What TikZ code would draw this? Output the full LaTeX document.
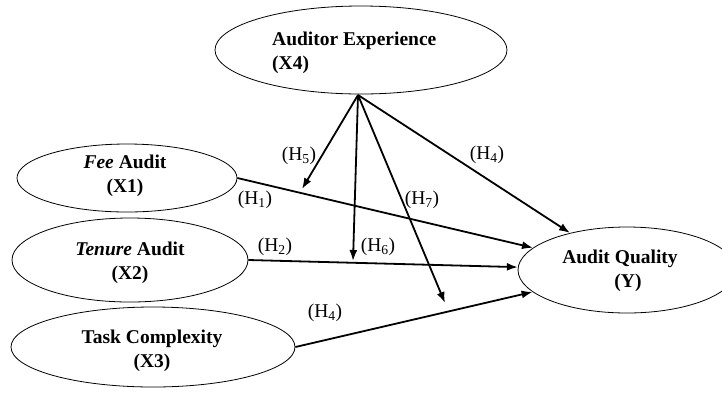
\documentclass[tikz,border=0pt]{standalone}
\usepackage{fontspec}
\setmainfont{Liberation Serif}
\usetikzlibrary{arrows.meta,shapes.geometric}
\begin{document}
\begin{tikzpicture}[x=1pt,y=-1pt,
  oval/.style={draw,ellipse,line width=0.8pt,inner sep=0pt},
  lbl/.style={font=\fontsize{19.5}{24}\selectfont\bfseries,inner sep=0pt},
  hyp/.style={font=\fontsize{19.5}{24}\selectfont,inner sep=0pt},
  conn/.style={line width=1.8pt,-{Latex[length=11pt,width=8pt]}}]
\useasboundingbox (0,0) rectangle (722,392);
\clip (0,0) rectangle (722,392);
% ellipses
\node[oval,minimum width=292pt,minimum height=88pt] (ae) at (361,50) {};
\node[oval,minimum width=220pt,minimum height=68pt] (fee) at (127,178) {};
\node[oval,minimum width=236pt,minimum height=84pt] (ten) at (130,260) {};
\node[oval,minimum width=284pt,minimum height=80pt] (task) at (153,347) {};
\node[oval,minimum width=218pt,minimum height=86pt] (aq) at (627,270) {};
% texts
\node[lbl,align=left,anchor=west] (aet) at (272,53) {Auditor Experience\\(X4)};
\node[lbl,align=center] (feet) at (125,176) {\textit{Fee} Audit\\(X1)};
\node[lbl,align=center] (tent) at (130,263) {\textit{Tenure} Audit\\(X2)};
\node[lbl,align=center] (taskt) at (152,351) {Task Complexity\\(X3)};
\node[lbl,align=center] (aqt) at (620,271) {Audit Quality\\\hspace*{16pt}(Y)};
% points
\coordinate (apex) at (358,95);
\coordinate (e5) at (302,189);
\coordinate (e6) at (353,261);
\coordinate (e7) at (445,303);
% connectors
\draw[conn] (fee.east) -- (aq);
\draw[conn] (ten.east) -- (aq);
\draw[conn] (task.east) -- (aq);
\draw[conn] (apex) -- (aq);
\draw[conn] (apex) -- (e5);
\draw[conn] (apex) -- (e6);
\draw[conn] (apex) -- (e7);
% hypothesis labels
\node[hyp] (h5) at (299,156) {(H\textsubscript{5})};
\node[hyp] (h1) at (255,200) {(H\textsubscript{1})};
\node[hyp] (h2) at (275,247) {(H\textsubscript{2})};
\node[hyp] (h6) at (378,247) {(H\textsubscript{6})};
\node[hyp] (h7) at (422,200) {(H\textsubscript{7})};
\node[hyp] (h4a) at (487,155) {(H\textsubscript{4})};
\node[hyp] (h4b) at (325,313) {(H\textsubscript{4})};
\end{tikzpicture}
\end{document}
